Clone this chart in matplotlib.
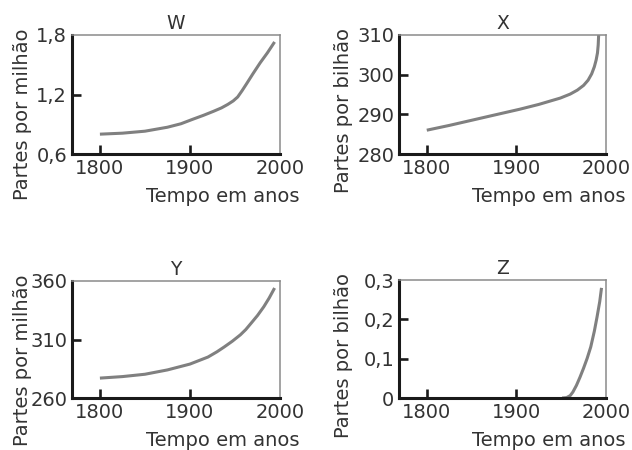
import matplotlib
matplotlib.use('Agg')
import matplotlib.pyplot as plt


TEXT_COLOR = '#333333'
LINE_COLOR = '#808080'

# values
w_years = [1800, 1825, 1850, 1875, 1890, 1903, 1915, 1926, 1935, 1942, 1948,
           1953, 1958, 1963, 1970, 1978, 1986, 1994]
w_values = [0.80, 0.81, 0.83, 0.87, 0.905, 0.95, 0.99, 1.03, 1.065, 1.10, 1.135,
            1.175, 1.24, 1.31, 1.41, 1.52, 1.62, 1.73]

x_years = [1800, 1825, 1850, 1875, 1904, 1925, 1949, 1960, 1968, 1975, 1980,
           1984, 1987, 1989, 1990.5, 1991.3, 1991.8]
x_values = [286.0, 287.2, 288.5, 289.8, 291.3, 292.5, 294.1, 295.1, 296.1, 297.3, 298.6,
            300.2, 302.0, 303.7, 305.5, 307.5, 310.0]

y_years = [1800, 1825, 1850, 1875, 1900, 1920, 1930, 1938, 1947, 1956, 1962,
           1968, 1975, 1982, 1988, 1994]
y_values = [277, 278.3, 280.3, 284, 289, 295, 299.5, 303.6, 308.5, 314, 318.5,
            324, 330.5, 338, 345.5, 354]

z_years = [1951, 1956, 1960, 1963, 1967, 1971, 1975, 1979, 1983, 1987, 1990, 1993, 1995]
z_values = [0.0, 0.001, 0.006, 0.015, 0.032, 0.053, 0.076, 0.101, 0.13, 0.17, 0.206,
            0.245, 0.28]

year_ticks = [1800, 1900, 2000]
year_labels = ['1800', '1900', '2000']

w_ticks = [0.6, 1.2, 1.8]
w_labels = ['0,6', '1,2', '1,8']
x_ticks = [280, 290, 300, 310]
x_labels = ['280', '290', '300', '310']
y_ticks = [260, 310, 360]
y_labels = ['260', '310', '360']
z_ticks = [0, 0.1, 0.2, 0.3]
z_labels = ['0', '0,1', '0,2', '0,3']

panels = [
    ('W', w_years, w_values, w_ticks, w_labels, 'Partes por milhão',
     [72, 35, 280, 154], (-0.236, 0.336)),
    ('X', x_years, x_values, x_ticks, x_labels, 'Partes por bilhão',
     [399, 35, 606, 154], (-0.27, 0.366)),
    ('Y', y_years, y_values, y_ticks, y_labels, 'Partes por milhão',
     [72, 281, 280, 398], (-0.236, 0.325)),
    ('Z', z_years, z_values, z_ticks, z_labels, 'Partes por bilhão',
     [399, 280, 606, 398], (-0.27, 0.36)),
]

W, H = 632, 450
fig = plt.figure(figsize=(W / 100, H / 100), dpi=100)
plt.rcParams['font.family'] = ['DejaVu Sans']
FS = 14

for title, xs, ys, ticks, labels, ylabel, box, ylab_pos in panels:
    left, top, right, bottom = box
    ax = fig.add_axes([left / W, 1 - bottom / H, (right - left) / W, (bottom - top) / H])
    ax.plot(xs, ys, color=LINE_COLOR, lw=2.2, solid_capstyle='butt')
    ax.set_xlim(1769, 2000)
    ax.set_ylim(ticks[0], ticks[-1])
    ax.set_xticks(year_ticks, year_labels)
    ax.set_yticks(ticks, labels)
    ax.tick_params(direction='in', length=6.5, width=1.9, color='#1a1a1a',
                   labelsize=FS, labelcolor=TEXT_COLOR, pad=3.5)
    # no tick marks sitting on the top/right frame
    ax.xaxis.get_major_ticks()[-1].tick1line.set_visible(False)
    ax.yaxis.get_major_ticks()[-1].tick1line.set_visible(False)
    for side in ('left', 'bottom'):
        ax.spines[side].set_linewidth(2.2)
        ax.spines[side].set_color('#1a1a1a')
    for side in ('top', 'right'):
        ax.spines[side].set_linewidth(1.1)
        ax.spines[side].set_color('#8a8a8a')
    ax.set_title(title, fontsize=13.5, color=TEXT_COLOR, pad=4)
    ax.set_xlabel('Tempo em anos', fontsize=FS, color=TEXT_COLOR, ha='right', va='center')
    ax.xaxis.set_label_coords(1.096, -0.36)
    ax.set_ylabel(ylabel, fontsize=FS, color=TEXT_COLOR, va='center')
    ax.yaxis.set_label_coords(*ylab_pos)

fig.savefig('out.png', dpi=100)
